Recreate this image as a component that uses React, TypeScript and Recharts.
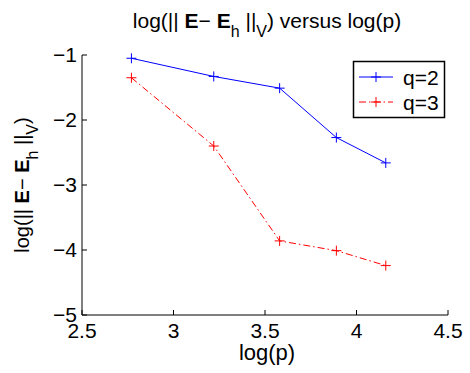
import { LineChart, Line, XAxis, YAxis } from 'recharts'

const logP = [2.77, 3.22, 3.58, 3.89, 4.16]
const errQ2 = [-1.05, -1.33, -1.51, -2.27, -2.66]
const errQ3 = [-1.35, -2.4, -3.86, -4.01, -4.24]
const xTicks = [2.5, 3, 3.5, 4, 4.5]
const yTicks = [-5, -4, -3, -2, -1]

const series = [
  { key: 'q2', name: 'q=2', color: '#0000ff', dash: undefined as string | undefined },
  { key: 'q3', name: 'q=3', color: '#ff0000', dash: '7 3 1.5 3' },
]

const font = '"Liberation Sans", Arial, Helvetica, sans-serif'
const tickFs = 21

const data = logP.map((x, i) => ({ x, q2: errQ2[i], q3: errQ3[i] }))

const fmt = (v: number) => (v < 0 ? '\u2212' + Math.abs(v) : String(v))

function PlusDot(props: any) {
  const { cx, cy, stroke } = props
  if (cx == null || cy == null) return null
  return (
    <g>
      <line x1={cx - 5} y1={cy} x2={cx + 5} y2={cy} stroke={stroke} strokeWidth={1} />
      <line x1={cx} y1={cy - 5} x2={cx} y2={cy + 5} stroke={stroke} strokeWidth={1} />
    </g>
  )
}

// ||E - E_h||_V with TeX-ish subscripts
function NormLabel({ tail, size }: { tail: string; size: number }) {
  const sub = Math.round(size * 0.78)
  const drop = Math.round(size * 0.45)
  return (
    <>
      <tspan>log(|| </tspan>
      <tspan fontWeight="bold">E</tspan>
      <tspan>{'\u2212 '}</tspan>
      <tspan fontWeight="bold">E</tspan>
      <tspan fontSize={sub} dy={drop}>h</tspan>
      <tspan dy={-drop}> ||</tspan>
      <tspan fontSize={sub} dy={drop}>V</tspan>
      <tspan dy={-drop}>{tail}</tspan>
    </>
  )
}

export default function App() {
  return (
    <div style={{ position: 'absolute', left: 0, top: 0, background: '#fff' }}>
      <LineChart
        width={470}
        height={373}
        data={data}
        margin={{ top: 55, right: 22, bottom: 28, left: 22 }}
        style={{ fontFamily: font }}
      >
        <text x={267} y={28} textAnchor="middle" fontSize={21} fontFamily={font} fill="#000">
          <NormLabel tail=") versus log(p)" size={21} />
        </text>
        <text
          x={0}
          y={0}
          transform="translate(29,185) rotate(-90)"
          textAnchor="middle"
          fontSize={20}
          fontFamily={font}
          fill="#000"
        >
          <NormLabel tail=")" size={20} />
        </text>
        <text x={267} y={360} textAnchor="middle" fontSize={22} fontFamily={font} fill="#000">
          log(p)
        </text>
        <XAxis
          xAxisId="b"
          dataKey="x"
          type="number"
          domain={[2.5, 4.5]}
          ticks={xTicks}
          allowDataOverflow
          height={30}
          tickSize={-5}
          tickMargin={13}
          stroke="#000"
          tick={{ fontSize: tickFs, fill: '#000', fontFamily: font }}
        />
        <XAxis
          xAxisId="t"
          orientation="top"
          dataKey="x"
          type="number"
          domain={[2.5, 4.5]}
          ticks={xTicks}
          height={0}
          mirror
          tickSize={5}
          tick={false}
          stroke="#000"
        />
        <YAxis
          yAxisId="l"
          type="number"
          domain={[-5, -1]}
          ticks={yTicks}
          width={60}
          tickSize={-5}
          tickMargin={10}
          tickFormatter={fmt}
          stroke="#000"
          tick={{ fontSize: tickFs, fill: '#000', fontFamily: font }}
        />
        <YAxis
          yAxisId="r"
          orientation="right"
          type="number"
          domain={[-5, -1]}
          ticks={yTicks}
          width={0}
          mirror
          tickSize={5}
          tick={false}
          stroke="#000"
        />
        {series.map((s) => (
          <Line
            key={s.key}
            xAxisId="b"
            yAxisId="l"
            dataKey={s.key}
            name={s.name}
            type="linear"
            stroke={s.color}
            strokeWidth={1}
            strokeDasharray={s.dash}
            dot={<PlusDot />}
            activeDot={false}
            isAnimationActive={false}
          />
        ))}
        <g transform="translate(353,61)">
          <rect x={0.5} y={0.5} width={91} height={56} fill="#fff" stroke="#000" strokeWidth={1.5} />
          {series.map((s, i) => {
            const cy = 16 + i * 25
            return (
              <g key={s.key}>
                <line x1={6} y1={cy} x2={40} y2={cy} stroke={s.color} strokeDasharray={s.dash} />
                <PlusDot cx={23} cy={cy} stroke={s.color} />
                <text x={50} y={cy + 7.5} fontSize={21} fontFamily={font} fill="#000">
                  {s.name}
                </text>
              </g>
            )
          })}
        </g>
      </LineChart>
    </div>
  )
}
